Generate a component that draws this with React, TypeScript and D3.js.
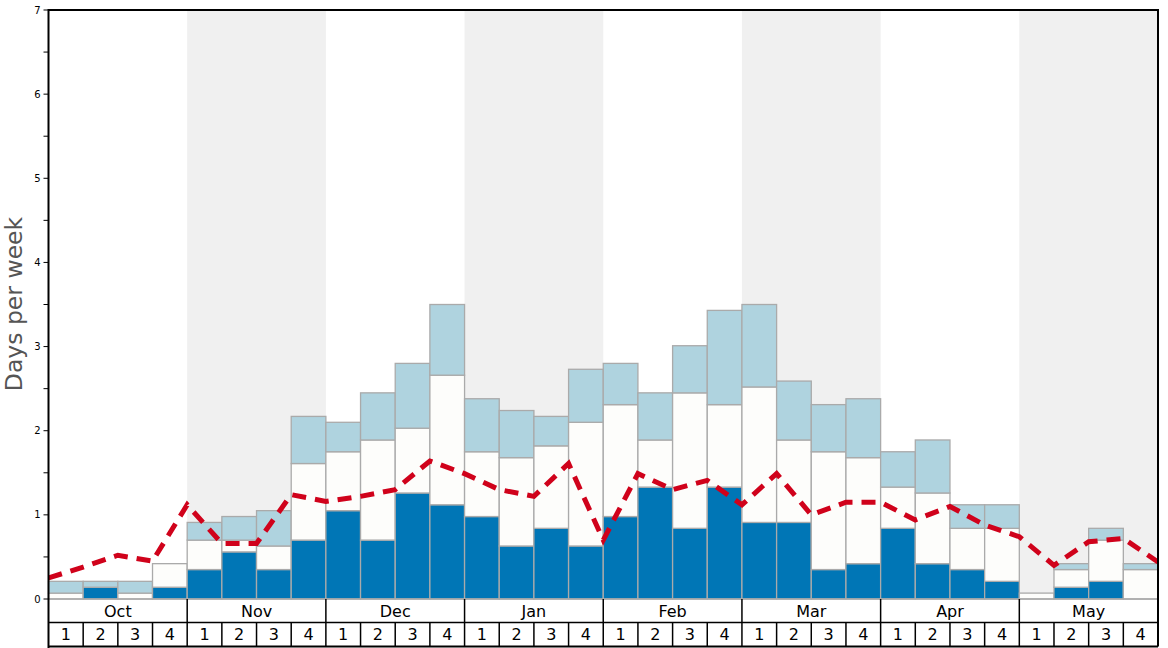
import React from "react";
import * as d3 from "d3";

const months = ["Oct", "Nov", "Dec", "Jan", "Feb", "Mar", "Apr", "May"];
const weekLabels = ["1", "2", "3", "4"];

// bottom segment (dark blue)
const darkDays = [
  0, 0.14, 0, 0.14,
  0.35, 0.56, 0.35, 0.7,
  1.05, 0.7, 1.26, 1.12,
  0.98, 0.63, 0.84, 0.63,
  0.98, 1.33, 0.84, 1.33,
  0.91, 0.91, 0.35, 0.42,
  0.84, 0.42, 0.35, 0.21,
  0, 0.14, 0.21, 0,
];
// middle segment (white)
const whiteDays = [
  0.07, 0, 0.07, 0.28,
  0.35, 0.14, 0.28, 0.91,
  0.7, 1.19, 0.77, 1.54,
  0.77, 1.05, 0.98, 1.47,
  1.33, 0.56, 1.61, 0.98,
  1.61, 0.98, 1.4, 1.26,
  0.49, 0.84, 0.49, 0.63,
  0.07, 0.21, 0.49, 0.35,
];
// top segment (light blue)
const lightDays = [
  0.14, 0.07, 0.14, 0,
  0.21, 0.28, 0.42, 0.56,
  0.35, 0.56, 0.77, 0.84,
  0.63, 0.56, 0.35, 0.63,
  0.49, 0.56, 0.56, 1.12,
  0.98, 0.7, 0.56, 0.7,
  0.42, 0.63, 0.28, 0.28,
  0, 0.07, 0.14, 0.07,
];
// dashed line values at week boundaries
const lineDays = [
  0.25, 0.38, 0.52, 0.45, 1.12, 0.66, 0.66, 1.24, 1.16, 1.22, 1.3, 1.64,
  1.49, 1.3, 1.22, 1.61, 0.7, 1.49, 1.3, 1.41, 1.12, 1.49, 1.0, 1.15, 1.15,
  0.94, 1.1, 0.88, 0.74, 0.4, 0.68, 0.72, 0.44,
];

const W = 1168;
const H = 648;
const left = 48.5;
const right = 1158;
const top = 10;
const base = 599;
const monthRowBottom = 622.5;
const weekRowBottom = 646.5;

export default function App() {
  const nWeeks = months.length * weekLabels.length;
  const x = d3.scaleLinear().domain([0, nWeeks]).range([left, right]);
  const y = d3.scaleLinear().domain([0, 7]).range([base, top]);

  const segs: { i: number; y0: number; y1: number; fill: string }[] = [];
  for (let i = 0; i < nWeeks; i++) {
    const a = darkDays[i];
    const b = a + whiteDays[i];
    const c = b + lightDays[i];
    if (darkDays[i] > 0) segs.push({ i, y0: 0, y1: a, fill: "#0076b6" });
    if (whiteDays[i] > 0) segs.push({ i, y0: a, y1: b, fill: "#fdfdfb" });
    if (lightDays[i] > 0) segs.push({ i, y0: b, y1: c, fill: "#afd3df" });
  }

  const line = d3
    .line<number>()
    .x((_, i) => x(i))
    .y((d) => y(d));

  const ticks = d3.range(0, 7.001, 0.5);
  const font = "DejaVu Sans, sans-serif";

  return (
    <svg
      width={W}
      height={H}
      style={{ position: "absolute", left: 0, top: 0 }}
      fontFamily={font}
    >
      <defs>
        <clipPath id="plotclip">
          <rect x={left} y={top} width={right - left} height={base - top} />
        </clipPath>
      </defs>
      <rect x={0} y={0} width={W} height={H} fill="#fff" />
      {months.map((m, mi) =>
        mi % 2 === 1 ? (
          <rect
            key={"band" + m}
            x={x(mi * 4)}
            y={top}
            width={x(mi * 4 + 4) - x(mi * 4)}
            height={base - top}
            fill="#f0f0f0"
          />
        ) : null
      )}
      {segs.map((s, k) => (
        <rect
          key={k}
          x={x(s.i)}
          y={y(s.y1)}
          width={x(s.i + 1) - x(s.i)}
          height={y(s.y0) - y(s.y1)}
          fill={s.fill}
          stroke="#aaaaaa"
          strokeWidth={1.3}
        />
      ))}
      <line x1={left} x2={right} y1={base} y2={base} stroke="#aaaaaa" strokeWidth={1.3} />
      <path
        d={line(lineDays) || ""}
        fill="none"
        stroke="#d0021b"
        strokeWidth={5}
        strokeDasharray="14,9"
        clipPath="url(#plotclip)"
      />
      {/* frame */}
      <line x1={left} x2={right} y1={top} y2={top} stroke="#000" strokeWidth={2} />
      <line x1={right} x2={right} y1={top - 1} y2={weekRowBottom} stroke="#000" strokeWidth={2} />
      <line x1={left} x2={left} y1={top - 1} y2={H} stroke="#000" strokeWidth={2} />
      <line x1={left} x2={right} y1={monthRowBottom} y2={monthRowBottom} stroke="#000" strokeWidth={1.5} />
      <line x1={left} x2={right} y1={weekRowBottom} y2={weekRowBottom} stroke="#000" strokeWidth={2} />
      {/* y ticks */}
      {ticks.map((t) => (
        <g key={"t" + t}>
          <line x1={left - 5} x2={left} y1={y(t)} y2={y(t)} stroke="#000" strokeWidth={1} />
          {Number.isInteger(t) ? (
            <text x={left - 8} y={y(t)} dy="0.35em" textAnchor="end" fontSize={10} fill="#000">
              {t}
            </text>
          ) : null}
        </g>
      ))}
      <text
        transform={`translate(22, 304) rotate(-90)`}
        textAnchor="middle"
        fontSize={23.5}
        fill="#555"
      >
        Days per week
      </text>
      {/* month row */}
      {months.map((m, mi) => (
        <g key={"m" + m}>
          {mi > 0 ? (
            <line
              x1={x(mi * 4)}
              x2={x(mi * 4)}
              y1={base}
              y2={monthRowBottom}
              stroke="#000"
              strokeWidth={1.5}
            />
          ) : null}
          <text
            x={(x(mi * 4) + x(mi * 4 + 4)) / 2}
            y={(base + monthRowBottom) / 2}
            dy="0.36em"
            textAnchor="middle"
            fontSize={16}
            fill="#000"
          >
            {m}
          </text>
        </g>
      ))}
      {/* week row */}
      {d3.range(nWeeks).map((i) => (
        <g key={"w" + i}>
          {i > 0 ? (
            <line
              x1={x(i)}
              x2={x(i)}
              y1={monthRowBottom}
              y2={weekRowBottom}
              stroke="#000"
              strokeWidth={1.5}
            />
          ) : null}
          <text
            x={(x(i) + x(i + 1)) / 2}
            y={(monthRowBottom + weekRowBottom) / 2}
            dy="0.36em"
            textAnchor="middle"
            fontSize={16}
            fill="#000"
          >
            {weekLabels[i % 4]}
          </text>
        </g>
      ))}
    </svg>
  );
}
